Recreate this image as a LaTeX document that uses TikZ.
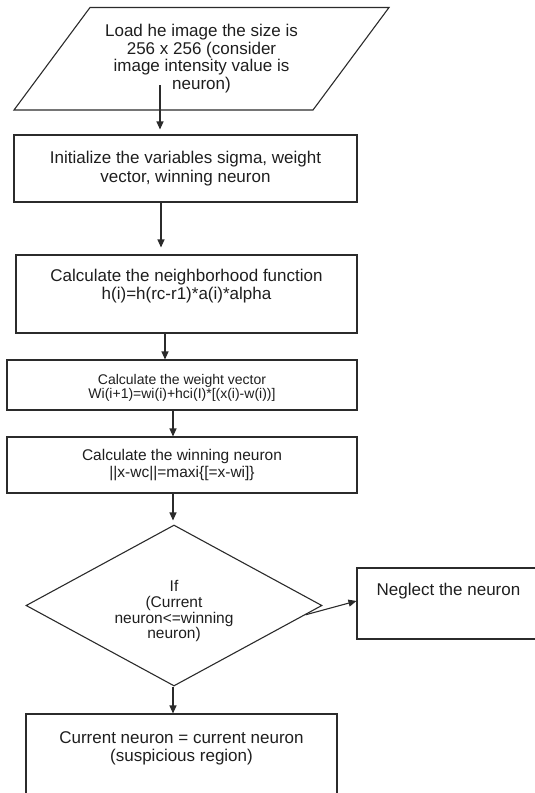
\documentclass[tikz,border=0pt]{standalone}
\usepackage{fontspec}
\setmainfont{Liberation Sans}
\usetikzlibrary{shapes.geometric,arrows.meta,calc}

\definecolor{ink}{HTML}{2B2B2B}
\definecolor{txt}{HTML}{1E1E1E}

\tikzset{
  shape line/.style={draw=ink, line width=1.1pt},
  procbox/.style={shape line, rectangle, inner sep=0pt, align=center, text=txt},
  flowarrow/.style={draw=ink, line width=1.1pt, -{Triangle[length=8pt,width=7pt]}},
}

% box body with its text set at the top: width, height, top padding, text
\newcommand{\toptext}[4]{\parbox[c][#2][t]{#1}{\fontsize{17}{18}\selectfont\centering\vspace*{#3}#4}}

\begin{document}
\begin{tikzpicture}[x=1pt, y=-1pt]
\useasboundingbox (0,0) rectangle (535,793);
\clip (0,0) rectangle (535,793);

% input: parallelogram outline and its text
\coordinate (in-tl) at (90,7.5);
\coordinate (in-tr) at (389,7.5);
\coordinate (in-br) at (313,110);
\coordinate (in-bl) at (14,110);
\draw[shape line, line join=miter] (in-tl) -- (in-tr) -- (in-br) -- (in-bl) -- cycle;
\node[inner sep=0pt, align=center, text=txt,
      font=\fontsize{17}{17.5}\selectfont] (load) at (201.5,58.75)
  {Load he image the size is\\256 x 256 (consider\\image intensity value is\\neuron)};

% process steps
\node[procbox, minimum width=343pt, minimum height=67pt,
      font=\fontsize{17}{19}\selectfont] (init) at (185.5,168.5)
  {Initialize the variables sigma, weight\\vector, winning neuron};

\node[procbox] (neigh) at (186.5,294)
  {\toptext{341pt}{78pt}{13.4pt}{\strut Calculate the neighborhood function\\h(i)=h(rc-r1)*a(i)*alpha}};

\node[procbox, minimum width=350pt, minimum height=50pt,
      font=\fontsize{14}{14.5}\selectfont] (weight) at (182,385)
  {\rule{0pt}{16pt}Calculate the weight vector\\Wi(i+1)=wi(i)+hci(I)*[(x(i)-w(i))]};

\node[procbox, minimum width=350pt, minimum height=56pt,
      font=\fontsize{15.5}{17}\selectfont] (win) at (182,465)
  {Calculate the winning neuron\\||x-wc||=maxi\{[=x-wi]\}};

% decision
\node[diamond, aspect=1.84, shape line, inner sep=0pt, minimum width=296pt,
      minimum height=161pt, align=center, text=txt,
      font=\fontsize{15.5}{15.7}\selectfont] (test) at (174,605.5)
  {\rule{0pt}{23pt}If\\(Current\\neuron<=winning\\neuron)};

\node[procbox] (neglect) at (448.5,603.5)
  {\toptext{183pt}{71pt}{14.4pt}{\strut Neglect the neuron}};

\node[procbox] (result) at (181.5,757)
  {\toptext{311pt}{86pt}{16.4pt}{\strut Current neuron = current neuron\\(suspicious region)}};

% connectors
\coordinate (p1) at (160,85);
\draw[flowarrow, shorten >=5pt] (p1) -- (p1 |- init.north);

\coordinate (p2) at ([xshift=-24.5pt]init.south);
\draw[flowarrow, shorten >=7pt] (p2) -- (p2 |- neigh.north);

\coordinate (p3) at ([xshift=-21.5pt]neigh.south);
\draw[flowarrow] (p3) -- (p3 |- weight.north);

\coordinate (p4) at ([xshift=-9pt]weight.south);
\draw[flowarrow] (p4) -- (p4 |- win.north);

\coordinate (p5) at ([xshift=-9pt]win.south);
\draw[flowarrow, shorten >=4pt] (p5) -- (p5 |- test.north);

\coordinate (p6) at ([xshift=-1pt]test.south);
\draw[flowarrow] (p6) -- (p6 |- result.north);

\coordinate (p7) at ($(test.east)!0.115!(test.south)$);
\draw[flowarrow] (p7) -- ([yshift=2.5pt]neglect.west);
\end{tikzpicture}
\end{document}
